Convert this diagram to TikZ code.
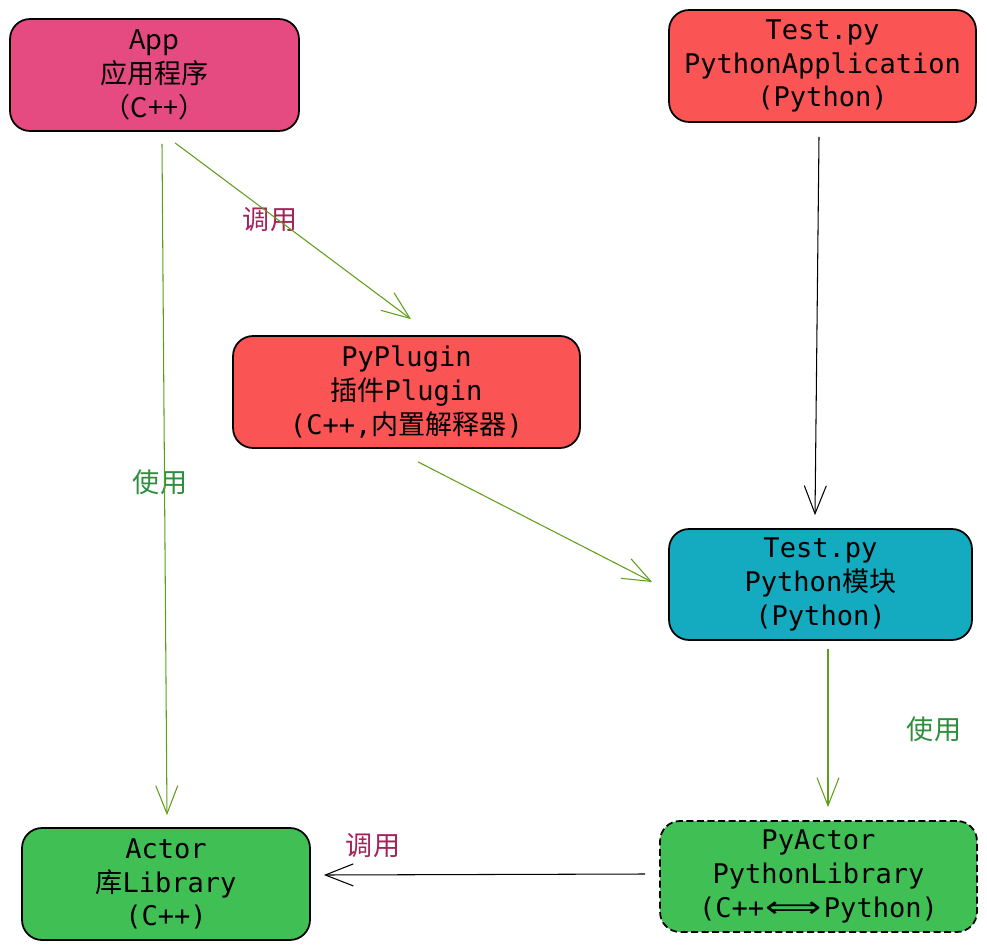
\documentclass[tikz,border=0pt]{standalone}
\usepackage{fontspec}
\usepackage{graphicx}
\setmainfont{DejaVu Sans Mono}
\newfontfamily\cjk{Noto Sans CJK SC}
\newfontfamily\symb{DejaVu Sans}
\newcommand{\zh}[1]{{\cjk #1}}
\usepackage{tikz}
\usetikzlibrary{arrows.meta,calc,positioning}
\definecolor{apppink}{HTML}{E54A80}
\definecolor{boxred}{HTML}{FA5454}
\definecolor{boxteal}{HTML}{14AABF}
\definecolor{boxgreen}{HTML}{40BF55}
\definecolor{linkgreen}{HTML}{5E9E18}
\definecolor{usegreen}{HTML}{2E8E3E}
\definecolor{callred}{HTML}{A3245A}

\begin{document}
\begin{tikzpicture}[x=0.02cm,y=-0.02cm,% one unit is one pixel of the reference, y grows downwards
			every node/.style={
				align=center,  		% so that the "\\" for line break works
				font=\fontsize{15.4}{19.3}\selectfont
			},
			box/.style={rectangle,rounded corners=0.4cm,draw=black,line width=1pt,
				minimum height=2.24cm,inner sep=0pt},
			link/.style={draw=linkgreen,line width=0.6pt,
				-{Straight Barb[length=0.56cm,width=0.44cm]}},
			plainlink/.style={link,draw=black},
			uselabel/.style={text=usegreen,font=\cjk\fontsize{15.4}{19.3}\selectfont},
			calllabel/.style={text=callred,font=\cjk\fontsize{15.4}{19.3}\selectfont}
		]
		\useasboundingbox (0,0) rectangle (987,949);
		\node[box,fill=apppink,minimum width=5.78cm,font=\cjk\fontsize{15.4}{19.3}\selectfont](App) at (154.5,75){App\\应用程序\\（C++）};
		\node[box,fill=boxred,minimum width=6.14cm](TestApp) at (822.5,66){Test.py\\PythonApplication\\(Python)};
		\node[box,fill=boxred,minimum width=6.94cm](Plugin) at (406.5,392){PyPlugin\\\zh{插件}Plugin\\(C++,\zh{内置解释器})};
		\node[box,fill=boxteal,minimum width=6.06cm,minimum height=2.22cm](Module) at (820.5,584.5){Test.py\\Python\zh{模块}\\(Python)};
		\node[box,fill=boxgreen,minimum width=5.76cm](Actor) at (166,884){Actor\\\zh{库}Library\\(C++)};
		\node[box,fill=boxgreen,dash pattern=on 4pt off 2pt,minimum width=6.34cm,minimum height=2.22cm](PyActor) at (818.5,876.5){PyActor\\PythonLibrary\\(C++\kern1pt{\symb\scalebox{1.45}[1.1]{⟺}}\kern1pt Python)};
		% labels on the links
		\node[uselabel](UseA) at (160,482){使用};
		\node[calllabel](CallA) at (270,220){调用};
		\node[uselabel](UseB) at (934,729){使用};
		\node[calllabel](CallB) at (373,846){调用};
		\path[link]
		($(App.south)+(7.5,12)$) -- ($(Actor.north)+(1,-12)$);
		\path[link]
		($(App.south)+(20.5,11)$) -- ($(Plugin.north)+(4.5,-16)$);
		\path[link]
		($(Plugin.south)+(11.5,13)$) -- ($(Module.west)+(-16,-2.5)$);
		\path[link]
		($(Module.south)+(7.5,8)$) -- ($(PyActor.north)+(9.5,-13)$);
		\path[plainlink]
		($(TestApp.south)+(-3.5,14)$) -- ($(Module.north)+(-5.5,-13)$);
		\path[plainlink]
		($(PyActor.west)+(-14,-2.5)$) -- ($(Actor.east)+(13,-9)$);
	\end{tikzpicture}
\end{document}
